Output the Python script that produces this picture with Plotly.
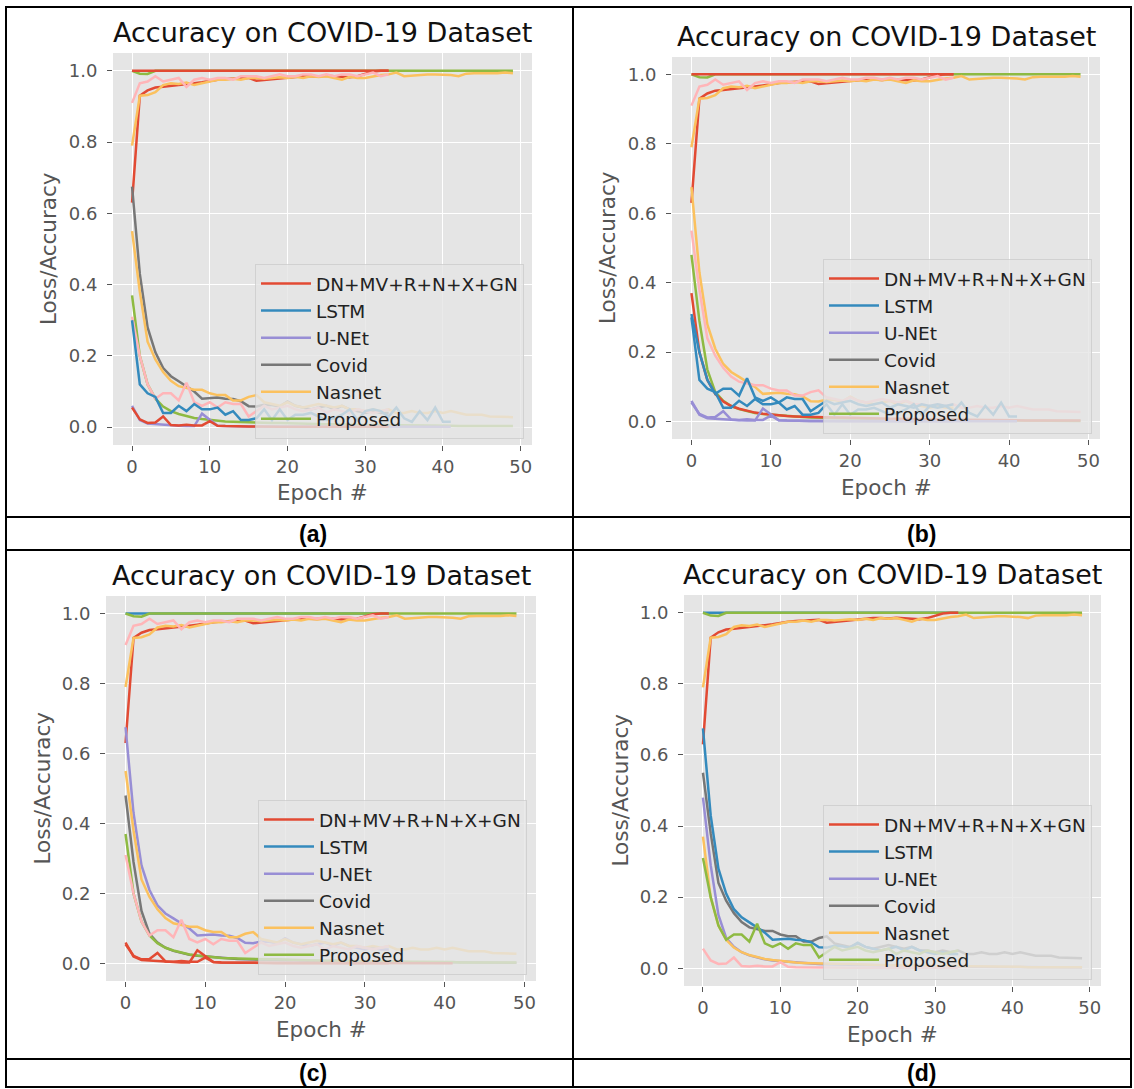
import plotly.graph_objects as go

W, H = 1134, 1089

# ---------------- data ----------------
epochs = list(range(50))
model_names = ["DN+MV+R+N+X+GN", "LSTM", "U-NEt", "Covid", "Nasnet", "Proposed"]
panel_labels = ["(a)", "(b)", "(c)", "(d)"]
title_text = "Accuracy on COVID-19 Dataset"
x_ticks = [0, 10, 20, 30, 40, 50]
y_ticks = [0.0, 0.2, 0.4, 0.6, 0.8, 1.0]

acc_const = [1.0, 1.0, 1.0, 1.0, 1.0, 1.0, 1.0, 1.0, 1.0, 1.0,
             1.0, 1.0, 1.0, 1.0, 1.0, 1.0, 1.0, 1.0, 1.0, 1.0,
             1.0, 1.0, 1.0, 1.0, 1.0, 1.0, 1.0, 1.0, 1.0, 1.0,
             1.0, 1.0, 1.0, 1.0]
acc_dip = [1.0, 0.992, 0.991, 1.0, 1.0, 1.0, 1.0, 1.0, 1.0, 1.0,
           1.0, 1.0, 1.0, 1.0, 1.0, 1.0, 1.0, 1.0, 1.0, 1.0,
           1.0, 1.0, 1.0, 1.0, 1.0, 1.0, 1.0, 1.0, 1.0, 1.0,
           1.0, 1.0, 1.0, 1.0, 1.0, 1.0, 1.0, 1.0, 1.0, 1.0,
           1.0, 1.0, 1.0, 1.0, 1.0, 1.0, 1.0, 1.0, 1.0, 1.0]
acc_rise = [0.63, 0.93, 0.945, 0.953, 0.955, 0.957, 0.96, 0.963, 0.965, 0.968,
            0.972, 0.975, 0.977, 0.978, 0.98, 0.98, 0.972, 0.974, 0.977, 0.98,
            0.98, 0.983, 0.985, 0.985, 0.984, 0.986, 0.985, 0.983, 0.982, 0.985,
            0.992, 0.998, 1.0, 1.0]
acc_nas = [0.79, 0.93, 0.932, 0.94, 0.96, 0.965, 0.963, 0.967, 0.96, 0.965,
           0.972, 0.975, 0.975, 0.978, 0.975, 0.98, 0.98, 0.978, 0.98, 0.982,
           0.98, 0.983, 0.98, 0.985, 0.983, 0.985, 0.98, 0.975, 0.983, 0.98,
           0.98, 0.985, 0.988, 0.99, 0.995, 0.985, 0.987, 0.988, 0.99, 0.99,
           0.99, 0.988, 0.985, 0.992, 0.993, 0.993, 0.992, 0.993, 0.995, 0.993]
acc_val = [0.91, 0.965, 0.97, 0.985, 0.97, 0.975, 0.98, 0.955, 0.975, 0.98,
           0.975, 0.98, 0.98, 0.975, 0.985, 0.985, 0.985, 0.98, 0.985, 0.99,
           0.985, 0.985, 0.99, 0.99, 0.985, 0.99, 0.985, 0.99, 0.99, 0.985,
           0.99, 0.995, 0.985, 0.99]

loss_68 = [0.675, 0.43, 0.28, 0.21, 0.166, 0.143, 0.129, 0.115, 0.10, 0.08,
           0.082, 0.083, 0.08, 0.079, 0.073, 0.059, 0.058, 0.063, 0.062, 0.058,
           0.072, 0.06, 0.055, 0.05, 0.055, 0.06, 0.05, 0.06, 0.05, 0.045,
           0.04, 0.045, 0.04, 0.04]
loss_55 = [0.55, 0.38, 0.24, 0.19, 0.155, 0.13, 0.115, 0.11, 0.105, 0.105,
           0.095, 0.09, 0.09, 0.075, 0.075, 0.085, 0.09, 0.07, 0.065, 0.06,
           0.07, 0.06, 0.055, 0.06, 0.065, 0.06, 0.055, 0.06, 0.05, 0.05,
           0.045, 0.05, 0.045, 0.05, 0.04, 0.04, 0.045, 0.04, 0.04, 0.045,
           0.04, 0.045, 0.04, 0.035, 0.035, 0.035, 0.03, 0.03, 0.028, 0.028]
loss_48 = [0.48, 0.29, 0.15, 0.085, 0.06, 0.045, 0.036, 0.03, 0.025, 0.022,
           0.02, 0.017, 0.015, 0.014, 0.013, 0.012, 0.011, 0.011, 0.010, 0.010,
           0.009, 0.009, 0.008, 0.008, 0.008, 0.007, 0.007, 0.007, 0.006, 0.006,
           0.006, 0.005, 0.005, 0.005, 0.005, 0.004, 0.004, 0.004, 0.004, 0.004,
           0.003, 0.003, 0.003, 0.003, 0.003, 0.003, 0.003, 0.002, 0.002, 0.002]
loss_37 = [0.37, 0.2, 0.12, 0.08, 0.058, 0.045, 0.037, 0.031, 0.026, 0.023,
           0.02, 0.018, 0.016, 0.015, 0.014, 0.013, 0.013, 0.012, 0.012, 0.012,
           0.011, 0.01, 0.01, 0.009, 0.009, 0.008, 0.008, 0.007, 0.007, 0.007,
           0.006, 0.006, 0.006, 0.005, 0.005, 0.005, 0.005, 0.004, 0.004, 0.004,
           0.004, 0.004, 0.003, 0.003, 0.003, 0.003, 0.003, 0.003, 0.003, 0.003]
loss_31 = [0.31, 0.2, 0.12, 0.08, 0.095, 0.095, 0.075, 0.125, 0.07, 0.06,
           0.07, 0.055, 0.07, 0.065, 0.065, 0.03, 0.045, 0.06, 0.05, 0.055,
           0.06, 0.05, 0.045, 0.05, 0.055, 0.04, 0.05, 0.045, 0.04, 0.05,
           0.045, 0.04, 0.045, 0.05]
loss_30 = [0.3, 0.12, 0.095, 0.085, 0.04, 0.04, 0.06, 0.045, 0.065, 0.05,
           0.05, 0.055, 0.035, 0.045, 0.02, 0.02, 0.025, 0.05, 0.02, 0.05,
           0.02, 0.035, 0.035, 0.04, 0.03, 0.02, 0.025, 0.035, 0.05, 0.02,
           0.045, 0.05, 0.045, 0.03, 0.055, 0.025, 0.015, 0.045, 0.02, 0.055,
           0.015, 0.015]
loss_06b = [0.06, 0.02, 0.01, 0.008, 0.006, 0.004, 0.004, 0.003, 0.003, 0.038,
            0.022, 0.004, 0.003, 0.002, 0.002, 0.002, 0.002, 0.002, 0.002, 0.001,
            0.001, 0.001, 0.001, 0.001, 0.001, 0.001, 0.001, 0.001, 0.001, 0.001,
            0.001, 0.001, 0.001, 0.001, 0.001, 0.001, 0.001, 0.001, 0.001, 0.001,
            0.001, 0.001]
loss_06a = [0.055, 0.022, 0.012, 0.013, 0.03, 0.006, 0.005, 0.007, 0.005, 0.005,
            0.017, 0.004, 0.003, 0.002, 0.002, 0.002, 0.002, 0.001, 0.001, 0.001,
            0.001, 0.001, 0.001, 0.001, 0.001, 0.001, 0.001, 0.001, 0.001, 0.001,
            0.001, 0.001, 0.001, 0.001]

curves = {
    "acc_const": acc_const, "acc_dip": acc_dip, "acc_rise": acc_rise,
    "acc_nas": acc_nas, "acc_val": acc_val,
    "loss_68": loss_68, "loss_55": loss_55, "loss_48": loss_48,
    "loss_37": loss_37, "loss_31": loss_31, "loss_30": loss_30,
    "loss_06b": loss_06b, "loss_06a": loss_06a,
}

# which curve is drawn in which colour, per panel (draw order)
panel_a = [("acc_dip", "green"), ("acc_const", "red"), ("acc_rise", "red"),
           ("acc_nas", "yellow"), ("acc_val", "pink"),
           ("loss_68", "gray"), ("loss_55", "yellow"), ("loss_37", "green"),
           ("loss_31", "pink"), ("loss_30", "blue"), ("loss_06b", "purple"),
           ("loss_06a", "red")]
panel_b = [("acc_dip", "green"), ("acc_const", "red"), ("acc_rise", "red"),
           ("acc_nas", "yellow"), ("acc_val", "pink"),
           ("loss_68", "yellow"), ("loss_55", "pink"), ("loss_48", "green"),
           ("loss_37", "red"), ("loss_31", "blue"), ("loss_30", "blue"),
           ("loss_06a", "purple"), ("loss_06b", "purple")]
panel_c = [("acc_const", "blue"), ("acc_dip", "green"), ("acc_rise", "red"),
           ("acc_nas", "yellow"), ("acc_val", "pink"),
           ("loss_68", "purple"), ("loss_55", "yellow"), ("loss_48", "gray"),
           ("loss_37", "green"), ("loss_31", "pink"), ("loss_06b", "red"),
           ("loss_06a", "red")]
panel_d = [("acc_const", "blue"), ("acc_dip", "green"), ("acc_rise", "red"),
           ("acc_nas", "yellow"),
           ("loss_55", "gray"), ("loss_68", "blue"), ("loss_48", "purple"),
           ("loss_37", "yellow"), ("loss_31", "green"), ("loss_06a", "pink")]
panels = [panel_a, panel_b, panel_c, panel_d]

# ---------------- style ----------------
COL = dict(red="#E24A33", blue="#348ABD", purple="#988ED5", gray="#777777",
           yellow="#FBC15E", green="#8EBA42", pink="#FFB5B8")
legend_colors = ["red", "blue", "purple", "gray", "yellow", "green"]

# plot-area boxes in pixels: left, right, top, bottom
boxes = [(113, 532, 53, 445), (672, 1100, 57, 439),
         (106, 536, 596, 981), (684, 1101, 595, 986)]
# legend boxes (right, bottom) in pixels
leg_pos = [(524, 439), (1092, 434), (527, 975), (1092, 980)]
label_pos = [(313, 534), (921, 534), (313, 1073), (921, 1073)]


def px(x):
    return x / W


def py(y):
    return 1 - y / H


FONT = "DejaVu Sans"
fig = go.Figure()
annotations = []
layout = {}

for i, spec in enumerate(panels):
    n = "" if i == 0 else str(i + 1)
    xa, ya = "x" + n, "y" + n
    for key, col in spec:
        yv = curves[key]
        fig.add_trace(go.Scatter(
            x=epochs[:len(yv)], y=yv, mode="lines", xaxis=xa, yaxis=ya,
            line=dict(color=COL[col], width=2.5), showlegend=False,
            hoverinfo="skip"))
    legname = "legend" + n
    for name, col in zip(model_names, legend_colors):
        fig.add_trace(go.Scatter(
            x=[None], y=[None], mode="lines", xaxis=xa, yaxis=ya, name=name,
            line=dict(color=COL[col], width=2.5), legend=legname))
    l, r, t, b = boxes[i]
    layout["xaxis" + n] = dict(
        domain=[px(l), px(r)], anchor=ya, range=[-2.45, 51.45],
        tickvals=x_ticks, ticks="outside", ticklen=5, tickwidth=1,
        tickcolor="#555555", showgrid=True, gridcolor="white", gridwidth=1.4,
        zeroline=False, showline=False,
        tickfont=dict(family=FONT, size=18, color="#555555"))
    layout["yaxis" + n] = dict(
        domain=[py(b), py(t)], anchor=xa, range=[-0.05, 1.05],
        tickvals=y_ticks, tickformat=".1f", ticks="outside", ticklen=5,
        tickwidth=1, tickcolor="#555555", showgrid=True, gridcolor="white",
        gridwidth=1.4, zeroline=False, showline=False, ticklabelstandoff=6,
        tickfont=dict(family=FONT, size=18, color="#555555"))
    lx, lb = leg_pos[i]
    layout[legname] = dict(
        x=px(lx), y=py(lb), xanchor="right", yanchor="bottom",
        bgcolor="rgba(229,229,229,0.8)", bordercolor="rgba(204,204,204,0.8)",
        borderwidth=1, font=dict(family=FONT, size=18.5, color="#222222"),
        itemwidth=50, tracegroupgap=0)
    cx = px((l + r) / 2)
    annotations.append(dict(
        text=title_text, x=cx, y=py(t), xref="paper", yref="paper",
        xanchor="center", yanchor="bottom", yshift=3, showarrow=False,
        font=dict(family=FONT, size=27, color="#111111")))
    annotations.append(dict(
        text="Epoch #", x=cx, y=py(b + 48), xref="paper", yref="paper",
        xanchor="center", yanchor="middle", showarrow=False,
        font=dict(family=FONT, size=21.5, color="#555555")))
    annotations.append(dict(
        text="Loss/Accuracy", x=px(l - 64), y=py((t + b) / 2), xref="paper",
        yref="paper", xanchor="center", yanchor="middle", textangle=-90,
        showarrow=False, font=dict(family=FONT, size=21.5, color="#555555")))
    lbx, lby = label_pos[i]
    annotations.append(dict(
        text="<b>" + panel_labels[i] + "</b>", x=px(lbx), y=py(lby),
        xref="paper", yref="paper", xanchor="center", yanchor="middle",
        showarrow=False,
        font=dict(family="Liberation Sans", size=23, color="#000000")))

# table frame
shapes = []
frame = dict(xref="paper", yref="paper", line=dict(color="black", width=2))
shapes.append(dict(type="rect", x0=px(6), x1=px(1131), y0=py(7), y1=py(1087),
                   **frame))
shapes.append(dict(type="line", x0=px(573), x1=px(573), y0=py(7), y1=py(1087),
                   **frame))
for yy in (517, 550, 1059):
    shapes.append(dict(type="line", x0=px(6), x1=px(1131), y0=py(yy),
                       y1=py(yy), **frame))

fig.update_layout(
    width=W, height=H, margin=dict(l=0, r=0, t=0, b=0),
    paper_bgcolor="white", plot_bgcolor="#E5E5E5",
    annotations=annotations, shapes=shapes, **layout)

fig.write_html(
    "out.html",
    config={"displayModeBar": False},
    post_script="document.body.style.margin='0';"
                "document.body.style.overflow='hidden';")
